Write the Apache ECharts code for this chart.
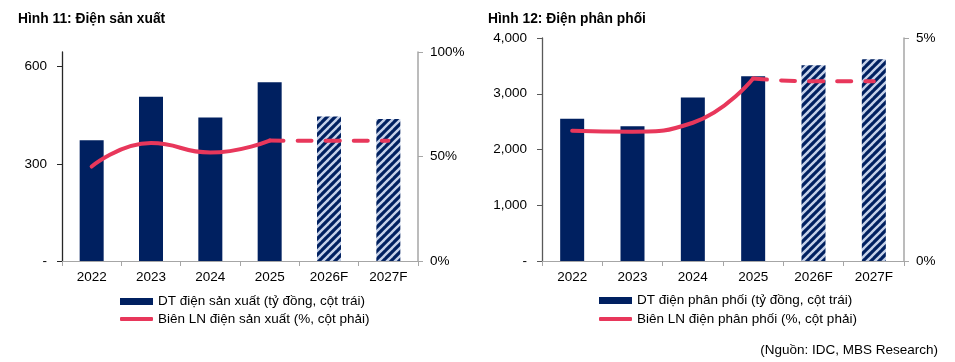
<!DOCTYPE html>
<html>
<head>
<meta charset="utf-8">
<script src="https://cdn.jsdelivr.net/npm/echarts@6/dist/echarts.min.js"></script>
<style>
html,body{margin:0;padding:0;background:#fff;}
#c{width:955px;height:362px;}
</style>
</head>
<body>
<div id="c"></div>
<script>
// ---- data ----
const categories = ['2022', '2023', '2024', '2025', '2026F', '2027F'];

const title1 = 'Hình 11: Điện sản xuất';
const revGen = [373, 507, 443, 552, 446, 438];            // tỷ đồng
const marginGen = [45.2, 56.4, 51.9, 57.6, 57.5, 57.5];   // %
const barName1 = 'DT điện sản xuất (tỷ đồng, cột trái)';
const lineName1 = 'Biên LN điện sản xuất (%, cột phải)';
const leftTicks1 = [0, 300, 600];
const rightTicks1 = [0, 50, 100];

const title2 = 'Hình 12: Điện phân phối';
const revDist = [2550, 2419, 2933, 3315, 3512, 3620];     // tỷ đồng
const marginDist = [2.92, 2.90, 3.10, 4.09, 4.03, 4.03];  // %
const barName2 = 'DT điện phân phối (tỷ đồng, cột trái)';
const lineName2 = 'Biên LN điện phân phối (%, cột phải)';
const leftTicks2 = [0, 1000, 2000, 3000, 4000];
const rightTicks2 = [0, 5];

const sourceText = '(Nguồn: IDC, MBS Research)';

// ---- styles ----
const NAVY = '#002060';
const RED = '#E8375B';
const FONT = 'Liberation Sans, Arial, sans-serif';
const FS = 13.5;

function hatch() {
  const s = 8;
  const cv = document.createElement('canvas');
  cv.width = s; cv.height = s;
  const g = cv.getContext('2d');
  g.fillStyle = NAVY; g.fillRect(0, 0, s, s);
  g.strokeStyle = '#c6d2ea'; g.lineWidth = 2.4;
  [[0, s, s, 0], [-s, s, s, -s], [0, 2 * s, 2 * s, 0]].forEach(l => {
    g.beginPath(); g.moveTo(l[0], l[1]); g.lineTo(l[2], l[3]); g.stroke();
  });
  return cv;
}
const hatchImg = hatch();

const isF = c => c.endsWith('F');
function barItems(vals) {
  return vals.map((v, i) => isF(categories[i])
    ? { value: v, itemStyle: { color: { image: hatchImg, repeat: 'repeat' } } }
    : { value: v });
}
const lastActual = categories.findIndex(isF) - 1;
function solidPart(vals) { return vals.map((v, i) => i <= lastActual ? v : '-'); }
function dashPart(vals) { return vals.map((v, i) => i >= lastActual ? v : '-'); }

const thousands = v => v === 0 ? '-' : v.toLocaleString('en-US');

function xAxis(gi) {
  return {
    type: 'category', gridIndex: gi, data: categories, boundaryGap: true,
    axisLine: { lineStyle: { color: '#a6a6a6', width: 1.2 } },
    axisTick: { show: true, length: 5, lineStyle: { color: '#a6a6a6' } },
    axisLabel: { color: '#000', fontSize: FS, margin: 9, fontFamily: FONT }
  };
}
function yLeft(gi, max, ticks, fmt, lineColor) {
  return {
    type: 'value', gridIndex: gi, min: 0, max: max, position: 'left',
    splitLine: { show: false },
    axisLine: { show: true, lineStyle: { color: lineColor, width: 1.3 } },
    axisTick: { show: true, length: 5, customValues: ticks, lineStyle: { color: lineColor } },
    axisLabel: { customValues: ticks, formatter: fmt, color: '#000', fontSize: FS, margin: 15, fontFamily: FONT }
  };
}
function yRight(gi, max, ticks) {
  return {
    type: 'value', gridIndex: gi, min: 0, max: max, position: 'right',
    splitLine: { show: false },
    axisLine: { show: true, lineStyle: { color: '#a6a6a6', width: 1.5 } },
    axisTick: { show: true, length: 5, customValues: ticks, lineStyle: { color: '#a6a6a6' } },
    axisLabel: { customValues: ticks, formatter: v => v + '%', color: '#000', fontSize: FS, margin: 12, fontFamily: FONT }
  };
}
function lineSeries(name, data, xi, yi, dashed) {
  return {
    type: 'line', name: name, xAxisIndex: xi, yAxisIndex: yi, data: data,
    smooth: true, symbol: 'none', z: 5, connectNulls: false,
    lineStyle: { color: RED, width: 4, cap: 'round', type: dashed ? [14, 14] : 'solid' },
    itemStyle: { color: RED }
  };
}
function legend(left, top, name, icon, h) {
  return {
    orient: 'vertical', left: left, top: top, padding: 0,
    itemWidth: 33, itemHeight: h, itemGap: 0, icon: icon,
    data: [name], selectedMode: false,
    textStyle: { color: '#000', fontSize: FS, fontFamily: FONT }
  };
}

const chart = echarts.init(document.getElementById('c'), null, { renderer: 'canvas' });
chart.setOption({
  animation: false,
  textStyle: { fontFamily: FONT },
  title: [
    { text: title1, left: 13, top: 7, textStyle: { fontSize: 13.8, fontWeight: 'bold', color: '#000', fontFamily: FONT } },
    { text: title2, left: 483, top: 7, textStyle: { fontSize: 13.8, fontWeight: 'bold', color: '#000', fontFamily: FONT } }
  ],
  grid: [
    { left: 62, top: 52, width: 356, height: 209 },
    { left: 542, top: 38, width: 362, height: 223 }
  ],
  xAxis: [xAxis(0), xAxis(1)],
  yAxis: [
    yLeft(0, 645, leftTicks1, v => v === 0 ? '-' : String(v), '#262626'),
    yRight(0, 100, rightTicks1),
    yLeft(1, 4000, leftTicks2, thousands, '#595959'),
    yRight(1, 5, rightTicks2)
  ],
  legend: [
    legend(120, 294.5, barName1, 'rect', 7),
    legend(120, 312, lineName1, 'roundRect', 4),
    legend(599, 293.5, barName2, 'rect', 7),
    legend(599, 312, lineName2, 'roundRect', 4)
  ],
  series: [
    { type: 'bar', name: barName1, xAxisIndex: 0, yAxisIndex: 0, data: barItems(revGen), barWidth: 24, itemStyle: { color: NAVY } },
    lineSeries(lineName1, solidPart(marginGen), 0, 1, false),
    lineSeries('f1', dashPart(marginGen), 0, 1, true),
    { type: 'bar', name: barName2, xAxisIndex: 1, yAxisIndex: 2, data: barItems(revDist), barWidth: 24, itemStyle: { color: NAVY } },
    lineSeries(lineName2, solidPart(marginDist), 1, 3, false),
    lineSeries('f2', dashPart(marginDist), 1, 3, true)
  ],
  graphic: [
    { type: 'text', right: 17, top: 343, style: { text: sourceText, font: FS + 'px ' + FONT, fill: '#000' } }
  ]
});
</script>
</body>
</html>
